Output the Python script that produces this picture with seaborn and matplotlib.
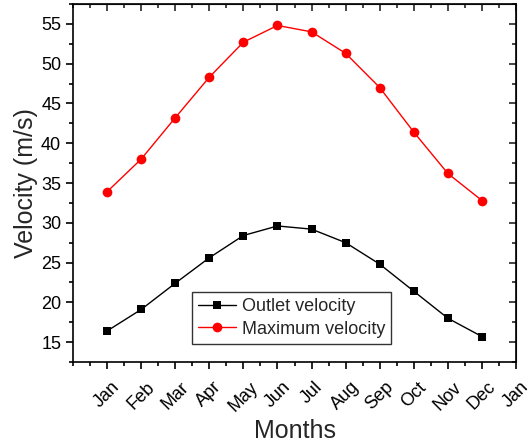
import matplotlib
matplotlib.use("Agg")
import matplotlib.pyplot as plt
from matplotlib.ticker import MultipleLocator
import seaborn as sns
import pandas as pd

months = ["Jan", "Feb", "Mar", "Apr", "May", "Jun", "Jul", "Aug", "Sep", "Oct", "Nov", "Dec"]
month_index = list(range(1, 13))
outlet_velocity = [16.4, 19.1, 22.4, 25.6, 28.4, 29.6, 29.2, 27.5, 24.8, 21.4, 18.0, 15.7]
maximum_velocity = [33.9, 38.0, 43.2, 48.3, 52.7, 54.8, 54.0, 51.3, 47.0, 41.4, 36.2, 32.8]
tick_labels = months + ["Jan"]

sns.set_style("ticks")
plt.rcParams["font.family"] = ["Liberation Sans", "DejaVu Sans"]

df = pd.DataFrame({"m": month_index, "outlet": outlet_velocity, "max": maximum_velocity})

fig = plt.figure(figsize=(5.29, 4.46), dpi=100)
ax = fig.add_axes([73 / 529, 1 - 362 / 446, (516 - 73) / 529, (362 - 4) / 446])

sns.lineplot(data=df, x="m", y="outlet", ax=ax, color="black", marker="s",
             markersize=6, markeredgewidth=0, linewidth=1, label="Outlet velocity")
sns.lineplot(data=df, x="m", y="max", ax=ax, color="red", marker="o",
             markersize=7, markeredgewidth=0, linewidth=1, label="Maximum velocity")

ax.set_xlim(0, 13)
ax.set_ylim(12.5, 57.5)
ax.set_xticks(range(1, 14))
ax.set_xticklabels(tick_labels, rotation=45, ha="center")
ax.xaxis.set_minor_locator(MultipleLocator(0.5))
ax.yaxis.set_major_locator(MultipleLocator(5))
ax.yaxis.set_minor_locator(MultipleLocator(2.5))

for s in ax.spines.values():
    s.set_linewidth(1.2)
    s.set_color("black")

# outward ticks on bottom and left
ax.tick_params(which="both", direction="out", top=False, right=False,
               labelsize=13, colors="black", width=1.2)
ax.tick_params(which="major", length=5)
ax.tick_params(which="minor", length=3)
ax.xaxis.set_tick_params(which="both", pad=7)

# inward mirrored ticks on top and right
sec_x = ax.secondary_xaxis("top")
sec_x.set_xticks(range(1, 14))
sec_x.xaxis.set_minor_locator(MultipleLocator(0.5))
sec_x.tick_params(which="both", direction="in", labeltop=False, width=1.2)
sec_x.tick_params(which="major", length=5)
sec_x.tick_params(which="minor", length=3)
sec_y = ax.secondary_yaxis("right")
sec_y.yaxis.set_major_locator(MultipleLocator(5))
sec_y.yaxis.set_minor_locator(MultipleLocator(2.5))
sec_y.tick_params(which="both", direction="in", labelright=False, width=1.2)
sec_y.tick_params(which="major", length=5)
sec_y.tick_params(which="minor", length=3)

ax.set_xlabel("Months", fontsize=18, labelpad=3)
ax.set_ylabel("Velocity (m/s)", fontsize=18, labelpad=2)

leg = ax.legend(loc="lower left", bbox_to_anchor=(119 / 443, 18 / 358), fontsize=13,
                frameon=True, fancybox=False, handlelength=2.1, handletextpad=0.3,
                borderpad=0.35, labelspacing=0.3, borderaxespad=0)
leg.get_frame().set_edgecolor("black")
leg.get_frame().set_linewidth(1)

fig.savefig("out.png", dpi=100)
